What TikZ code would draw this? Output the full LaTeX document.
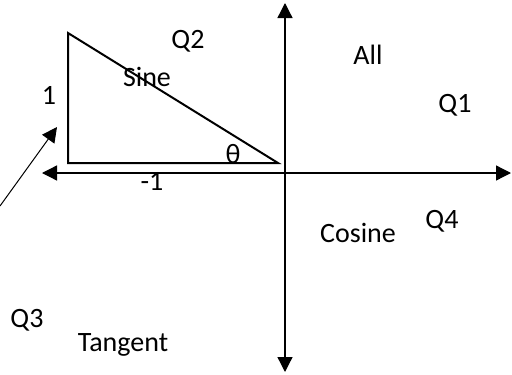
\documentclass[tikz,border=0pt]{standalone}
\usepackage{fontspec}
\setmainfont{Carlito}
\usepackage{tikz}
\usetikzlibrary{arrows.meta,positioning}
\usepackage{xcolor}
\definecolor{txt}{HTML}{000000}

\begin{document}
\begin{tikzpicture}[
  x=1pt, y=-1pt,
  >={Triangle[length=15pt,width=15pt]},
  lbl/.style={anchor=base, inner sep=0pt, font=\fontsize{28}{32}\selectfont, color=txt},
  axis/.style={<->, line width=1.3pt, color=txt},
  tri/.style={line width=2pt, color=txt, line join=miter},
  pointer/.style={->, line width=1pt, color=txt},
]
\useasboundingbox (0,0) rectangle (512,375);

% axes
\coordinate (ytop) at (285,3);
\coordinate (ybot) at (285,372);
\coordinate (xleft) at (42,173);
\coordinate (xright) at (511,173);
\draw[axis] (ybot) -- (ytop);
\draw[axis] (xleft) -- (xright);

% triangle
\coordinate (apex) at (68,33);
\coordinate (corner) at (68,163);
\coordinate (origin) at (278,163);
\draw[tri] (apex) -- (corner) -- (origin) -- cycle;

% pointer to the triangle
\coordinate (ptail) at (0,206);
\coordinate (phead) at (57,127);
\draw[pointer] (ptail) -- (phead);

% labels
\node[lbl] (q2) at (188,48) {Q2};
\node[lbl] (sine) at (147,86) {Sine};
\node[lbl] (one) at (49,104) {1};
\node[lbl] (theta) at (233,163) {θ};
\node[lbl] (minusone) at (152,190) {-1};
\node[lbl] (all) at (368,64) {All};
\node[lbl] (q1) at (455,112) {Q1};
\node[lbl] (cosine) at (358,242) {Cosine};
\node[lbl] (q4) at (442,228) {Q4};
\node[lbl] (q3) at (27,327) {Q3};
\node[lbl] (tangent) at (123,351) {Tangent};

\end{tikzpicture}
\end{document}
